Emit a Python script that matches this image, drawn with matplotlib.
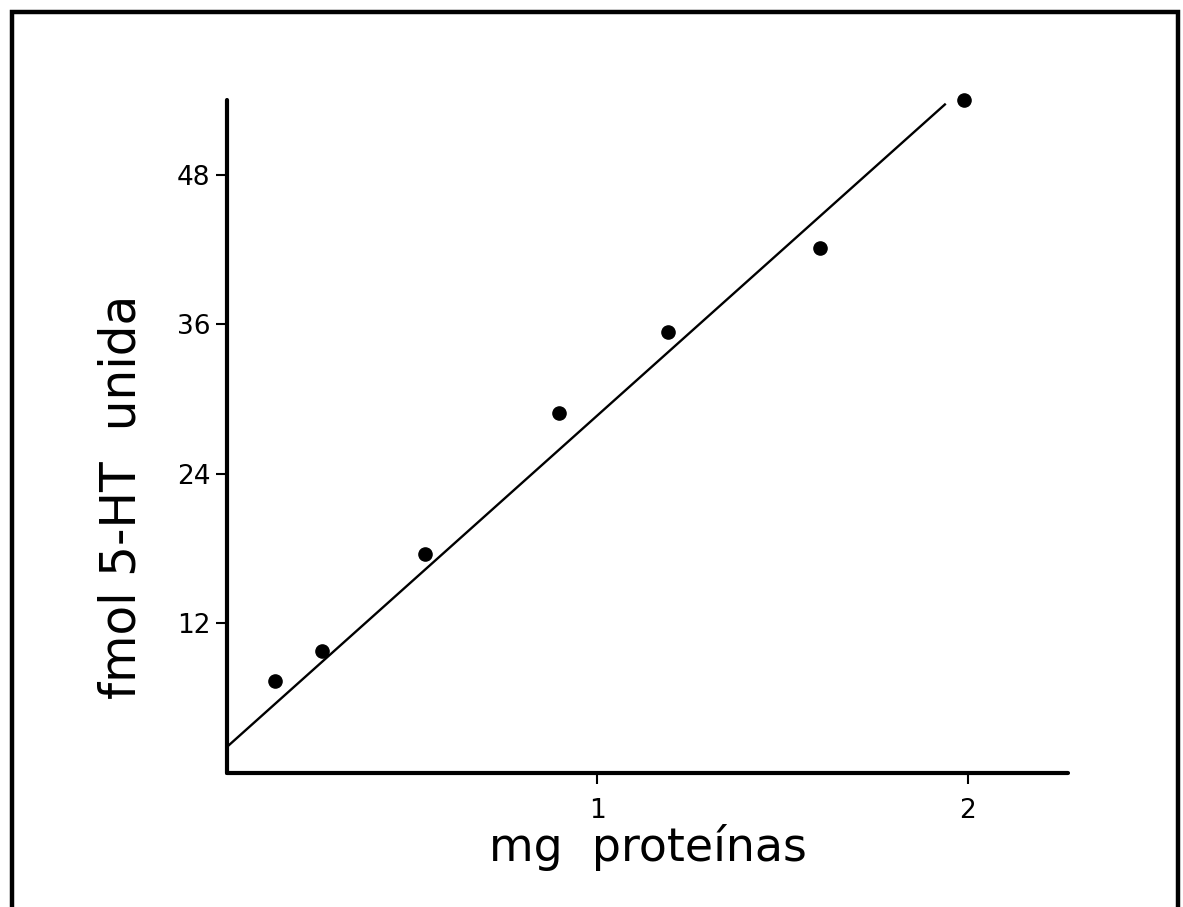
import matplotlib
matplotlib.use('Agg')
import matplotlib.pyplot as plt
from matplotlib.patches import Rectangle

# values
protein_mg = [0.13, 0.257, 0.535, 0.897, 1.19, 1.60, 1.99]
bound_fmol = [7.4, 9.8, 17.6, 28.9, 35.4, 42.1, 54.0]

# regression line as drawn (ends)
fit_x = [0.0, 1.94]
fit_y = [2.1, 53.7]

xticks = [1, 2]
yticks = [12, 24, 36, 48]

fig = plt.figure(figsize=(11.83, 9.07), dpi=100)
ax = fig.add_axes([0.1919, 0.1477, 0.7109, 0.7421])

ax.plot(fit_x, fit_y, color='black', lw=1.7, solid_capstyle='butt')
ax.plot(protein_mg, bound_fmol, 'o', color='black', ms=9.5, clip_on=False)

ax.set_xlim(0, 2.27)
ax.set_ylim(0, 54)

for side in ['top', 'right']:
    ax.spines[side].set_visible(False)
for side in ['left', 'bottom']:
    ax.spines[side].set_linewidth(3)
    ax.spines[side].set_capstyle('round')

ax.set_xticks(xticks)
ax.set_yticks(yticks)
ax.tick_params(axis='both', direction='out', length=8, width=1.5,
               labelsize=19, pad=4)
ax.tick_params(axis='x', pad=10)

ax.set_xlabel('mg  proteínas', fontsize=33, labelpad=0)
ax.set_ylabel('fmol 5-HT  unida', fontsize=35)
ax.yaxis.set_label_coords(-0.097, 0.41)

# frame round the whole figure, open at the bottom
fig.patches.append(Rectangle((0.0101, -0.05), 0.9857, 1.0368,
                             transform=fig.transFigure, fill=False,
                             edgecolor='black', lw=3.2))

fig.savefig('out.png', dpi=100)
